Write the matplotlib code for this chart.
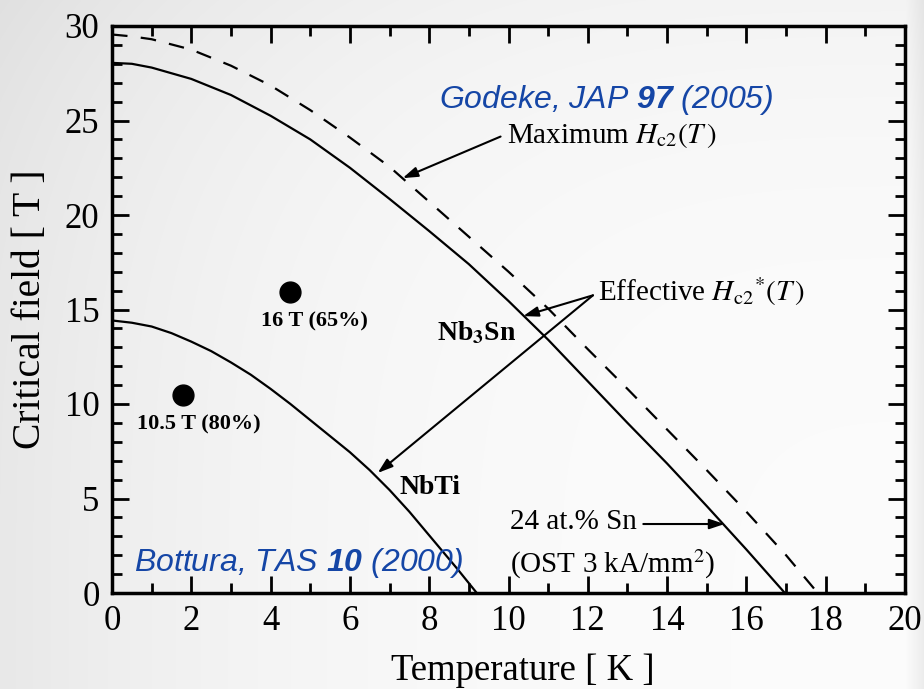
import numpy as np
import matplotlib
matplotlib.use('Agg')
import matplotlib.pyplot as plt
from matplotlib.ticker import MultipleLocator

# Critical field vs temperature
nb3sn_T = [0, 0.5, 1, 2, 3, 4, 5, 6, 7, 8, 9, 10, 11, 12, 13, 14, 15, 16, 16.97]
nb3sn_B = [28.05, 28.0, 27.8, 27.2, 26.35, 25.25, 24.0, 22.5, 20.85, 19.15,
           17.4, 15.45, 13.4, 11.2, 9.0, 6.85, 4.6, 2.3, 0]

hc2max_T = [0, 0.5, 1, 2, 3, 4, 5, 6, 7, 8, 9, 10, 11, 12, 13, 14, 15, 16, 17, 17.8]
hc2max_B = [29.55, 29.45, 29.3, 28.75, 27.9, 26.85, 25.55, 24.1, 22.55, 20.7,
            18.85, 17.0, 15.05, 12.9, 10.8, 8.65, 6.5, 4.3, 2.0, 0]

nbti_T = [0, 0.5, 1, 1.5, 2, 2.5, 3, 3.5, 4, 4.5, 5, 5.5, 6, 6.5, 7, 7.5, 8, 8.7, 9.2]
nbti_B = [14.42, 14.3, 14.1, 13.75, 13.3, 12.8, 12.2, 11.55, 10.8, 10.0, 9.15,
          8.3, 7.45, 6.5, 5.45, 4.3, 3.05, 1.3, 0]

op_T = [1.8, 4.5]
op_B = [10.5, 15.95]
op_labels = ['10.5 T (80%)', '16 T (65%)']

plt.rcParams['font.family'] = 'Liberation Serif'
plt.rcParams['mathtext.fontset'] = 'custom'
plt.rcParams['mathtext.rm'] = 'Liberation Sans:italic'
plt.rcParams['mathtext.it'] = 'Liberation Sans:italic'
plt.rcParams['mathtext.bf'] = 'Liberation Sans:italic:bold'

fig = plt.figure(figsize=(9.24, 6.89), dpi=100)

# light slide-like background
yy, xx = np.mgrid[0:689, 0:924]
bg = 0.985 - 0.075 * (1 - xx / 924) ** 3 - 0.03 * (1 - yy / 689) ** 4
bg -= 0.06 * np.clip((xx - 905) / 19, 0, 1)
fig.figimage(np.dstack([bg, bg, bg]), xo=0, yo=0, origin='upper', zorder=-10)

ax = fig.add_axes([112 / 924, 1 - 593 / 689, (905 - 112) / 924, (593 - 26) / 689])
ax.set_facecolor('none')

ax.plot(hc2max_T, hc2max_B, color='black', lw=1.6, dashes=(7, 6))
ax.plot(nb3sn_T, nb3sn_B, color='black', lw=1.6)
ax.plot(nbti_T, nbti_B, color='black', lw=1.6)
ax.plot(op_T, op_B, 'o', color='black', ms=15)

# label anchors relative to each point
for t, b, lab, dx in zip(op_T, op_B, op_labels, [0.4, 0.6]):
    ax.text(t + dx, b - 1.6, lab, ha='center', va='center', fontsize=16, fontweight='bold')

ax.set_xlim(0, 20)
ax.set_ylim(0, 30)
ax.xaxis.set_major_locator(MultipleLocator(2))
ax.xaxis.set_minor_locator(MultipleLocator(1))
ax.yaxis.set_major_locator(MultipleLocator(5))
ax.yaxis.set_minor_locator(MultipleLocator(1))
ax.tick_params(which='both', direction='in', top=True, right=True, width=2)
ax.tick_params(which='major', length=12, labelsize=25, pad=9)
ax.tick_params(which='minor', length=7)
for s in ax.spines.values():
    s.set_linewidth(2.5)

ax.set_xlabel('Temperature [ K ]', fontsize=26.5, labelpad=11)
ax.xaxis.label.set_x(0.518)
ax.set_ylabel('Critical field [ T ]', fontsize=28.5, labelpad=11)

blue = '#1546a6'
ax.text(8.25, 26.1, r'Godeke, JAP $\mathbf{97}$ (2005)', fontsize=23,
        family='Liberation Sans', style='italic', color=blue, va='center')
ax.text(0.55, 1.6, r'Bottura, TAS $\mathbf{10}$ (2000)', fontsize=23,
        family='Liberation Sans', style='italic', color=blue, va='center')

arrow = dict(arrowstyle='-|>,head_length=0.9,head_width=0.3', color='black', lw=1.5,
             shrinkA=0, shrinkB=0)
ax.annotate('', xy=(7.33, 21.95), xytext=(9.8, 24.15), arrowprops=arrow)
ax.text(9.95, 24.2, r'Maximum $H_{\rm c2}(T\,)$', fontsize=21, va='center',
        math_fontfamily='stix')

ax.annotate('', xy=(10.37, 14.65), xytext=(12.13, 15.75), arrowprops=arrow)
ax.annotate('', xy=(6.7, 6.35), xytext=(12.13, 15.75), arrowprops=arrow)
ax.text(12.25, 15.95, r'Effective $H_{\rm c2}{}^{*}(T\,)$', fontsize=21, va='center',
        math_fontfamily='stix')

ax.text(8.2, 13.75, r'Nb$_\mathbf{3}$Sn', fontsize=20, fontweight='bold', va='center',
        math_fontfamily='stix')
ax.text(7.25, 5.6, 'NbTi', fontsize=20, fontweight='bold', va='center')

ax.annotate('', xy=(15.45, 3.65), xytext=(13.4, 3.65), arrowprops=arrow)
ax.text(10.05, 3.75, '24 at.% Sn', fontsize=21, va='center')
ax.text(10.05, 1.5, r'(OST 3 kA/mm$^2$)', fontsize=21, va='center',
        math_fontfamily='stix')

fig.savefig('out.png', dpi=100)
